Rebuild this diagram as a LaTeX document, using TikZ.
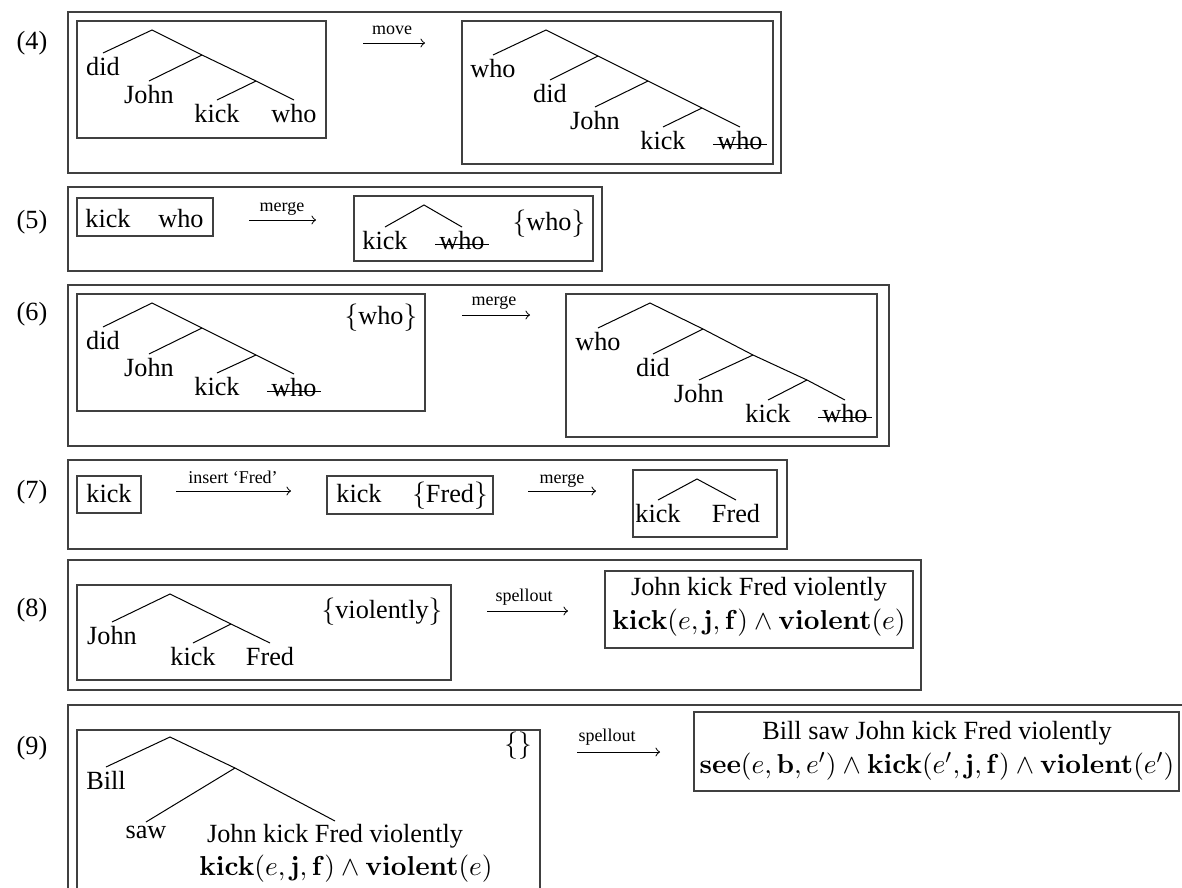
\documentclass[tikz,border=0pt]{standalone}
\usepackage{amsmath}
\usepackage[no-math]{fontspec}
\setmainfont{Liberation Serif}
\begin{document}
\begin{tikzpicture}[x=0.4pt,y=-0.4pt,
  frame/.style={draw=black!75,line width=0.5pt},
  branch/.style={line width=0.4pt},
  leaf/.style={anchor=north,inner sep=1.5pt,font=\fontsize{10.5}{12.5}\selectfont},
  word/.style={anchor=base,inner sep=0pt,font=\fontsize{10.5}{12.5}\selectfont},
  formula/.style={anchor=base,inner sep=0pt,font=\fontsize{11}{13}\selectfont},
  num/.style={anchor=base,inner sep=0pt,font=\fontsize{10.5}{12.5}\selectfont},
  lbl/.style={anchor=base,inner sep=0pt,font=\fontsize{7.2}{8.5}\selectfont},
  arw/.style={->,line width=0.4pt},
  strike/.style={line width=0.4pt}
]
\useasboundingbox (0,0) rectangle (1182,888);
\clip (0,0) rectangle (1182,888);

% ---------- (4) ----------
\draw[frame] (68,12) rectangle (781,173);
\node[num] (ex4) at (32,49) {(4)};
\draw[frame] (77,21) rectangle (326,138);
\coordinate (p4r) at (152,30);
\coordinate (p4a) at (202,55);
\coordinate (p4b) at (256,81);
\node[leaf] (p4did) at (103,53) {did};
\node[leaf] (p4john) at (149,81) {John};
\node[leaf] (p4kick) at (217,100) {kick};
\node[leaf] (p4who) at (294,100) {who};
\draw[branch] (p4did.north) -- (p4r) -- (p4a) -- (p4b) -- (p4who.north);
\draw[branch] (p4a) -- (p4john.north);
\draw[branch] (p4b) -- (p4kick.north);

\coordinate (m4s) at (363,43);
\coordinate (m4e) at (425,43);
\draw[arw] (m4s) -- (m4e);
\node[lbl] (m4) at (392,34) {move};

\draw[frame] (462,21) rectangle (773,164);
\coordinate (q4r) at (546,30);
\coordinate (q4a) at (598,56);
\coordinate (q4b) at (648,81);
\coordinate (q4c) at (702,108);
\node[leaf] (q4wh) at (493,55) {who};
\node[leaf] (q4did) at (550,80) {did};
\node[leaf] (q4john) at (595,107) {John};
\node[leaf] (q4kick) at (663,127) {kick};
\node[leaf] (q4who) at (740,127) {who};
\draw[branch] (q4wh.north) -- (q4r) -- (q4a) -- (q4b) -- (q4c) -- (q4who.north);
\draw[branch] (q4a) -- (q4did.north);
\draw[branch] (q4b) -- (q4john.north);
\draw[branch] (q4c) -- (q4kick.north);
\draw[strike] ([yshift=2pt]q4who.base west) -- ([yshift=2pt]q4who.base east);

% ---------- (5) ----------
\draw[frame] (68,187) rectangle (602,271);
\node[num] (ex5) at (32,228) {(5)};
\draw[frame] (77,198) rectangle (213,236);
\node[word] (p5kick) at (108,227) {kick};
\node[word] (p5who) at (181,227) {who};

\coordinate (m5s) at (249,220);
\coordinate (m5e) at (316,220);
\draw[arw] (m5s) -- (m5e);
\node[lbl] (m5) at (282,211) {merge};

\draw[frame] (354,196) rectangle (593,261);
\coordinate (q5r) at (424,205);
\node[leaf] (q5kick) at (385,227) {kick};
\node[leaf] (q5who) at (462,227) {who};
\draw[branch] (q5kick.north) -- (q5r) -- (q5who.north);
\draw[strike] ([yshift=2pt]q5who.base west) -- ([yshift=2pt]q5who.base east);
\node[word] (q5set) at (549,230) {$\{$who$\}$};

% ---------- (6) ----------
\draw[frame] (68,285) rectangle (889,446);
\node[num] (ex6) at (32,320) {(6)};
\draw[frame] (77,294) rectangle (425,411);
\coordinate (p6r) at (152,303);
\coordinate (p6a) at (202,328);
\coordinate (p6b) at (256,355);
\node[leaf] (p6did) at (103,327) {did};
\node[leaf] (p6john) at (149,354) {John};
\node[leaf] (p6kick) at (217,373) {kick};
\node[leaf] (p6who) at (294,374) {who};
\draw[branch] (p6did.north) -- (p6r) -- (p6a) -- (p6b) -- (p6who.north);
\draw[branch] (p6a) -- (p6john.north);
\draw[branch] (p6b) -- (p6kick.north);
\draw[strike] ([yshift=2pt]p6who.base west) -- ([yshift=2pt]p6who.base east);
\node[word] (p6set) at (381,324) {$\{$who$\}$};

\coordinate (m6s) at (462,315);
\coordinate (m6e) at (530,315);
\draw[arw] (m6s) -- (m6e);
\node[lbl] (m6) at (494,305) {merge};

\draw[frame] (566,294) rectangle (877,437);
\coordinate (q6r) at (650,303);
\coordinate (q6a) at (703,329);
\coordinate (q6b) at (753,355);
\coordinate (q6c) at (807,380);
\node[leaf] (q6wh) at (598,328) {who};
\node[leaf] (q6did) at (653,354) {did};
\node[leaf] (q6john) at (699,380) {John};
\node[leaf] (q6kick) at (768,400) {kick};
\node[leaf] (q6who) at (845,400) {who};
\draw[branch] (q6wh.north) -- (q6r) -- (q6a) -- (q6b) -- (q6c) -- (q6who.north);
\draw[branch] (q6a) -- (q6did.north);
\draw[branch] (q6b) -- (q6john.north);
\draw[branch] (q6c) -- (q6kick.north);
\draw[strike] ([yshift=2pt]q6who.base west) -- ([yshift=2pt]q6who.base east);

% ---------- (7) ----------
\draw[frame] (68,460) rectangle (787,549);
\node[num] (ex7) at (32,498) {(7)};
\draw[frame] (77,476) rectangle (141,513);
\node[word] (p7kick) at (109,502) {kick};

\coordinate (m7s) at (176,491);
\coordinate (m7e) at (291,491);
\draw[arw] (m7s) -- (m7e);
\node[lbl] (m7) at (233,483) {insert `Fred'};

\draw[frame] (327,476) rectangle (493,514);
\node[word] (q7kick) at (359,502) {kick};
\node[word] (q7set) at (450,502) {$\{$Fred$\}$};

\coordinate (n7s) at (528,491);
\coordinate (n7e) at (596,491);
\draw[arw] (n7s) -- (n7e);
\node[lbl] (n7) at (562,483) {merge};

\draw[frame] (633,470) rectangle (777,537);
\coordinate (r7r) at (697,479);
\node[leaf] (r7kick) at (658,500) {kick};
\node[leaf] (r7fred) at (736,500) {Fred};
\draw[branch] (r7kick.north) -- (r7r) -- (r7fred.north);

% ---------- (8) ----------
\draw[frame] (68,560) rectangle (921,690);
\node[num] (ex8) at (32,616) {(8)};
\draw[frame] (77,585) rectangle (451,680);
\coordinate (p8r) at (170,594);
\coordinate (p8a) at (231,624);
\node[leaf] (p8john) at (112,622) {John};
\node[leaf] (p8kick) at (193,643) {kick};
\node[leaf] (p8fred) at (270,643) {Fred};
\draw[branch] (p8john.north) -- (p8r) -- (p8a) -- (p8fred.north);
\draw[branch] (p8a) -- (p8kick.north);
\node[word] (p8set) at (382,618) {$\{$violently$\}$};

\coordinate (m8s) at (487,611);
\coordinate (m8e) at (568,611);
\draw[arw] (m8s) -- (m8e);
\node[lbl] (m8) at (524,601) {spellout};

\draw[frame] (605,571) rectangle (913,648);
\node[word] (s8a) at (759,595) {John kick Fred violently};
\node[formula] (s8b) at (759,629) {$\mathbf{kick}(e,\mathbf{j},\mathbf{f})\wedge\mathbf{violent}(e)$};

% ---------- (9) ----------
\draw[frame] (68,705) rectangle (1230,930);
\node[num] (ex9) at (32,754) {(9)};
\draw[frame] (77,730) rectangle (540,930);
\coordinate (p9r) at (170,737);
\coordinate (p9a) at (235,768);
\node[leaf] (p9bill) at (106,767) {Bill};
\node[leaf] (p9saw) at (146,822) {saw};
\node[leaf,inner sep=1pt] (p9top) at (335,821) {John kick Fred violently};
\node[formula] (p9bot) at (346,875) {$\mathbf{kick}(e,\mathbf{j},\mathbf{f})\wedge\mathbf{violent}(e)$};
\draw[branch] (p9bill.north) -- (p9r) -- (p9a) -- (p9top.north);
\draw[branch] (p9a) -- (p9saw.north);
\node[word] (p9set) at (518,752) {$\{\}$};

\coordinate (m9s) at (577,752);
\coordinate (m9e) at (660,752);
\draw[arw] (m9s) -- (m9e);
\node[lbl] (m9) at (607,741) {spellout};

\draw[frame] (694,712) rectangle (1179,791);
\node[word] (s9a) at (937,739) {Bill saw John kick Fred violently};
\node[formula] (s9b) at (937,773) {$\mathbf{see}(e,\mathbf{b},e')\wedge\mathbf{kick}(e',\mathbf{j},\mathbf{f})\wedge\mathbf{violent}(e')$};
\end{tikzpicture}
\end{document}
